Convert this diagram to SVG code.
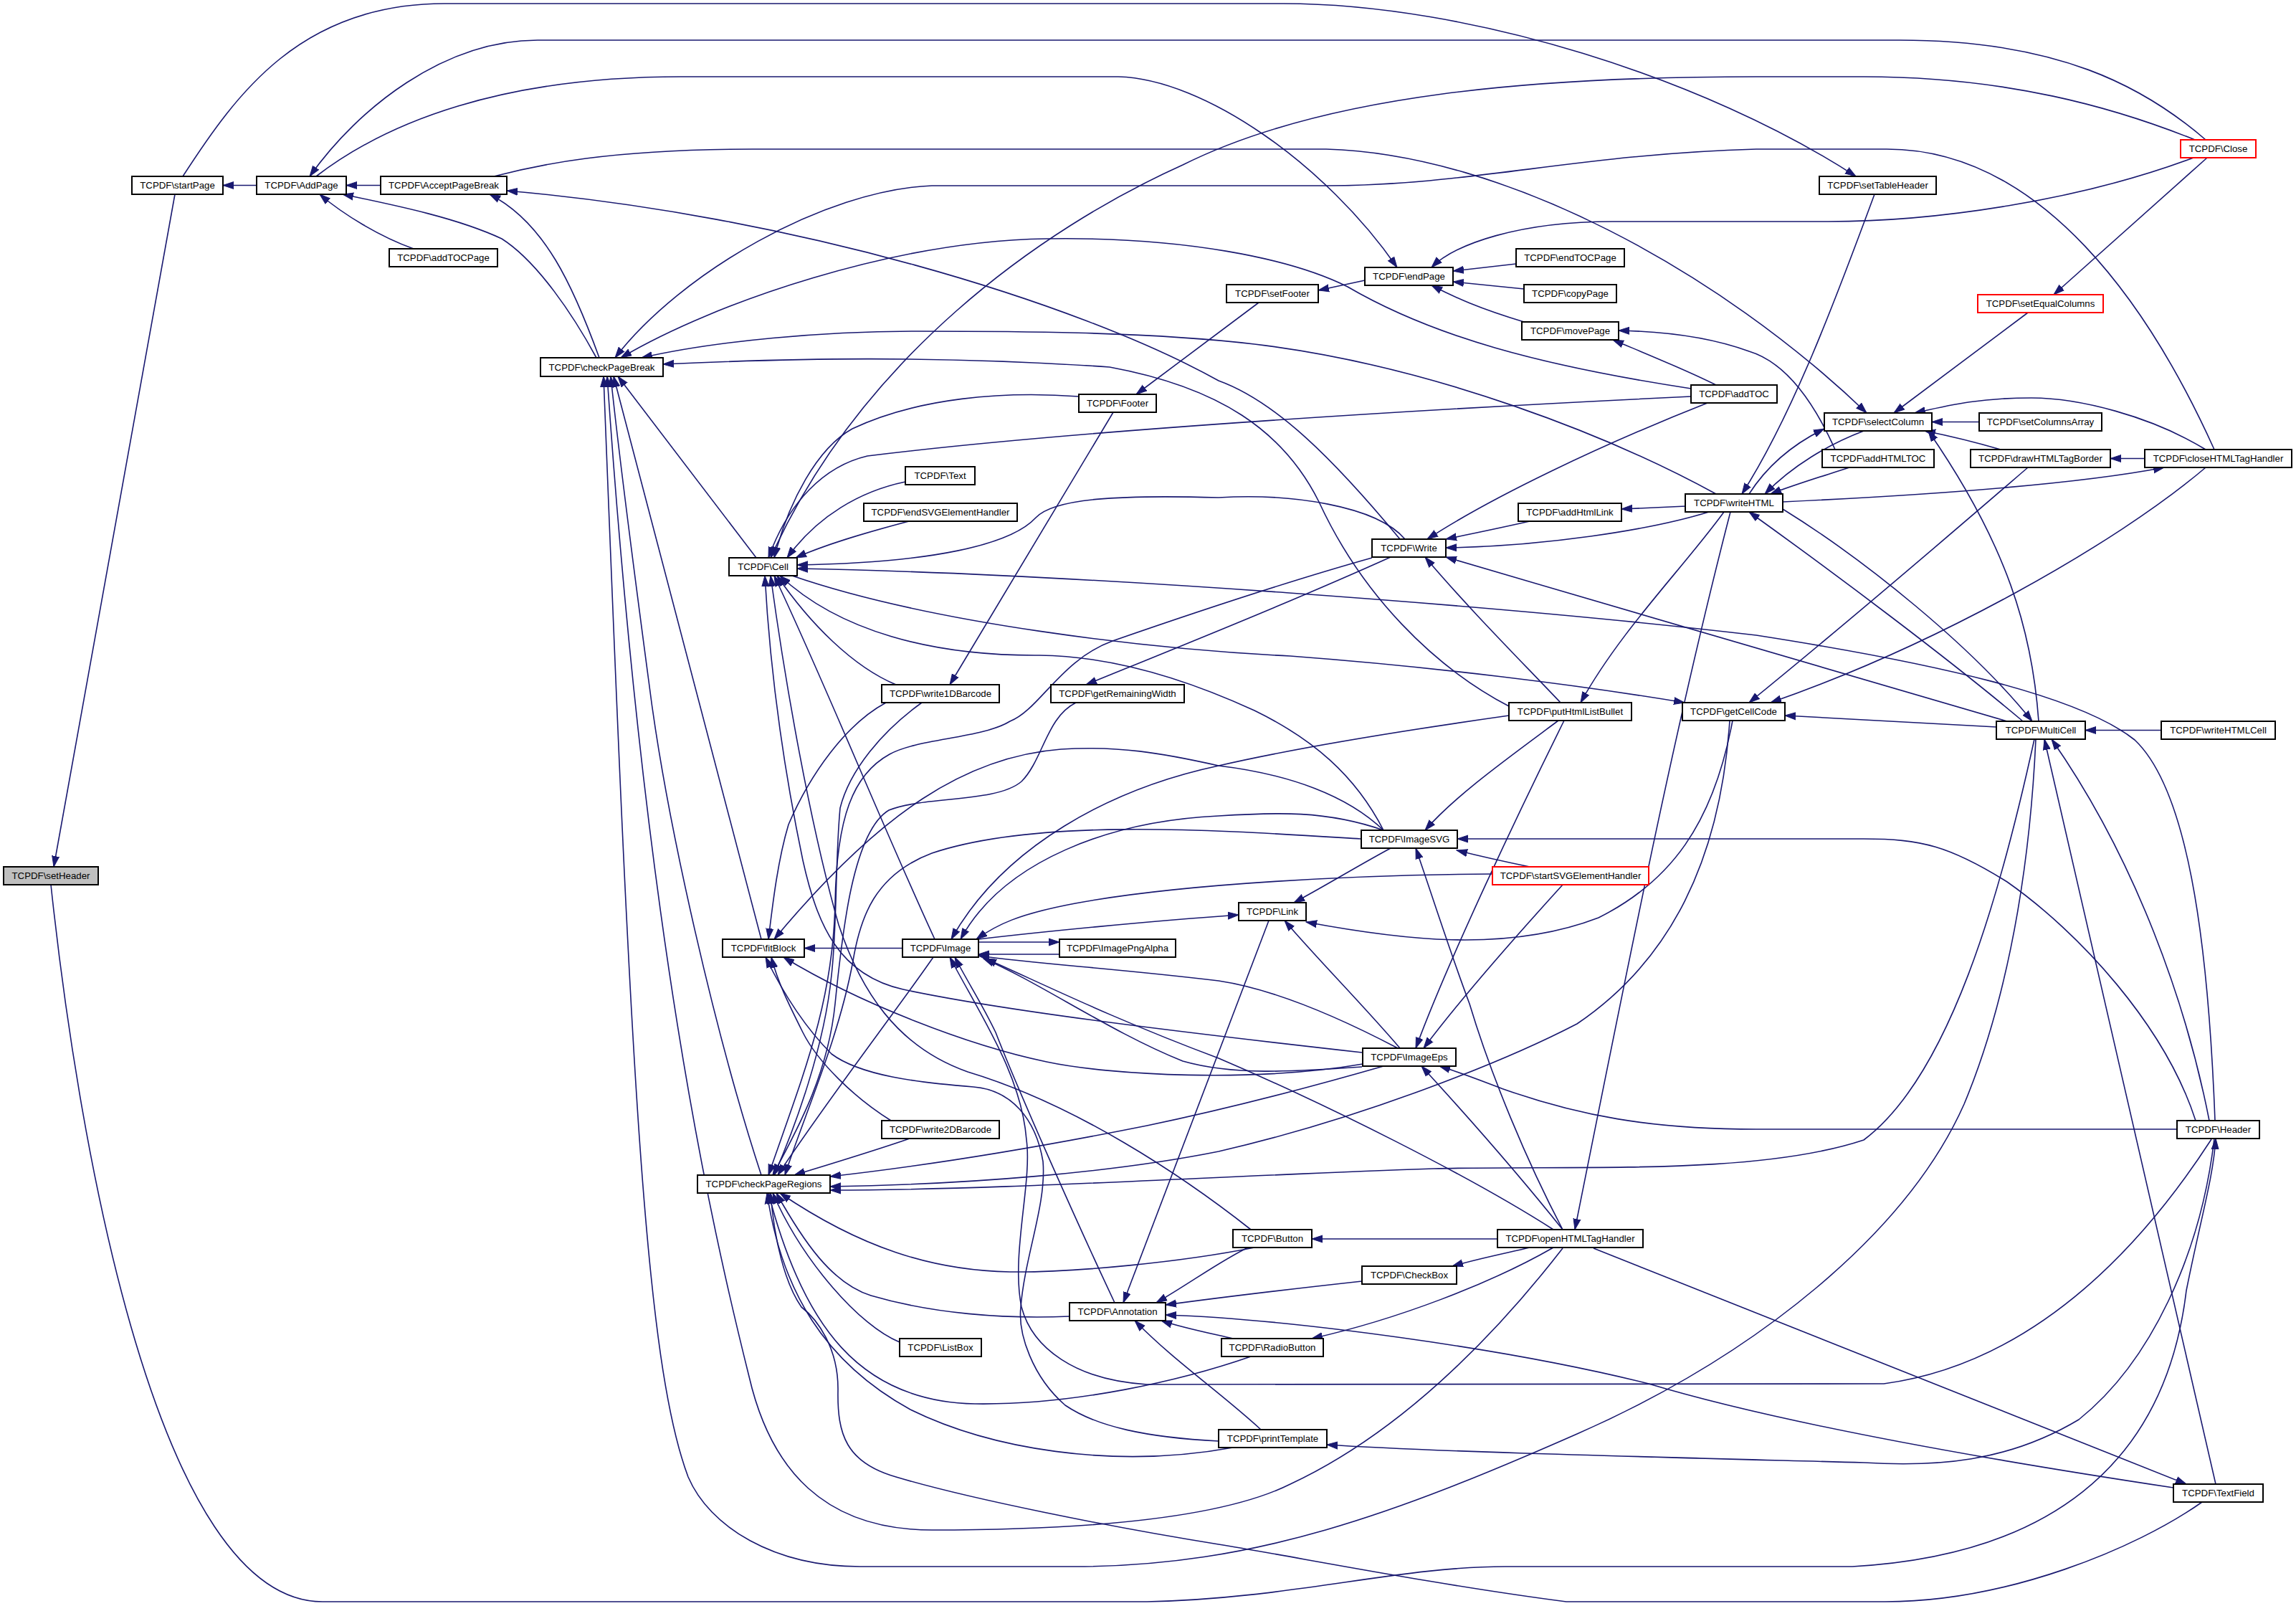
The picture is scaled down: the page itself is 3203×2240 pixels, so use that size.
<svg xmlns="http://www.w3.org/2000/svg" width="3203" height="2240" viewBox="0 0 3203 2240">
<defs>
<marker id="ah" markerUnits="userSpaceOnUse" markerWidth="16" markerHeight="12" refX="15" refY="5.5" orient="auto" viewBox="0 0 16 11"><path d="M0,0.5 L15,5.5 L0,10.5 z" fill="#191970" stroke="#191970" stroke-width="1"/></marker>
</defs>
<style>
.n rect{fill:#fff;stroke:#000;stroke-width:2}
.n.r rect{stroke:#ff0000}
.n.g rect{fill:#bfbfbf}
.n text{font-family:"Liberation Sans",Arial,sans-serif;font-size:13.25px;text-anchor:middle;fill:#000}
.e path{fill:none;stroke:#191970;stroke-width:1.6;marker-end:url(#ah)}
</style>
<rect width="3203" height="2240" fill="#fff"/>
<g id="edges" class="e">
<path d="M244,271 L75,1209"/>
<path d="M358,258.5 L311,258.5"/>
<path d="M531,258.5 L483,258.5"/>
<path d="M577,347 C530,330 480,300 446,271"/>
<path d="M832,499 C800,440 750,365 700,333 C640,305 560,288 478,271"/>
<path d="M3077,195 C2990,120 2870,56 2650,56 L750,56 C620,56 500,150 432,246"/>
<path d="M836,499 C800,400 760,310 683,271"/>
<path d="M1953,752 C1860,640 1780,560 1700,531 C1500,420 1100,300 707,266"/>
<path d="M255,246 C330,130 420,5 620,5 L1790,5 C2050,5 2380,110 2589,246"/>
<path d="M441,246 C540,170 700,107 950,107 L1560,107 C1680,110 1850,230 1949,373"/>
<path d="M3062,195 C2950,150 2800,107 2600,107 L2450,107 C2150,107 1850,130 1650,230 C1450,320 1200,500 1075,778"/>
<path d="M689,246 C750,230 850,208 1050,208 L1850,208 C2100,215 2400,380 2604,576"/>
<path d="M3089,627 C3000,430 2850,208 2632,208 L2450,208 C2200,215 2050,259 1850,259 L1300,259 C1150,265 950,380 858,499"/>
<path d="M3060,220 C2900,280 2700,309 2550,309 L2250,309 C2120,309 2030,340 1997,373"/>
<path d="M3079,220 L2865,411"/>
<path d="M2359,542 C2150,510 2000,470 1880,400 C1800,360 1650,330 1460,333 C1250,336 1000,420 866,499"/>
<path d="M2394,689 C2250,610 2000,510 1750,480 C1600,462 1400,462 1280,462 C1150,462 1000,475 895,499"/>
<path d="M2105,985 C2000,930 1900,830 1840,700 C1790,600 1700,540 1548,512 C1300,495 1100,500 925,508"/>
<path d="M1055,778 L862,525"/>
<path d="M1062,1310 L856,525"/>
<path d="M1062,1639 C1000,1450 930,1150 905,950 C885,800 865,650 852,525"/>
<path d="M2180,1741 C2080,1870 1950,2000 1800,2070 C1700,2120 1500,2134 1300,2134 C1150,2134 1075,2050 1045,1920 C990,1700 900,1300 847,525"/>
<path d="M2840,1031 C2830,1250 2790,1420 2740,1540 C2660,1720 2450,1890 2200,2000 C1950,2110 1750,2185 1500,2185 L1200,2185 C1080,2185 990,2130 960,2060 C900,1900 880,1500 842,525"/>
<path d="M2413,1005 C2400,1200 2330,1340 2200,1428 C2100,1480 1900,1560 1700,1606 C1550,1636 1350,1652 1158,1655"/>
<path d="M1930,1487 C1850,1510 1720,1545 1600,1570 C1450,1600 1300,1625 1158,1641"/>
<path d="M2838,1031 C2790,1250 2720,1500 2600,1590 C2450,1640 2200,1625 2000,1630 C1700,1640 1400,1660 1158,1660"/>
<path d="M3072,2095 C2980,2160 2800,2234 2630,2234 L2185,2234 C2000,2210 1800,2170 1700,2154 C1550,2130 1350,2090 1250,2060 C1180,2040 1168,2000 1169,1940 C1170,1880 1140,1840 1118,1823 C1095,1790 1080,1730 1075,1664"/>
<path d="M1745,1892 C1650,1925 1500,1960 1360,1958 C1200,1955 1120,1850 1072,1664"/>
<path d="M1720,2019 C1550,2050 1380,2020 1270,1966 C1150,1900 1090,1800 1070,1664"/>
<path d="M1750,1740 C1650,1760 1500,1775 1409,1774 C1300,1772 1200,1740 1088,1664"/>
<path d="M1492,1836 C1400,1840 1300,1832 1215,1807 C1160,1790 1120,1730 1083,1664"/>
<path d="M1255,1872 C1200,1850 1120,1760 1078,1664"/>
<path d="M1269,1588 C1220,1605 1170,1620 1108,1639"/>
<path d="M1302,1335 C1250,1410 1150,1540 1085,1639"/>
<path d="M1914,778 C1800,810 1650,860 1552,894 C1480,920 1450,990 1409,1006 C1370,1030 1280,1030 1241,1052 C1190,1080 1167,1140 1165,1260 C1162,1400 1120,1500 1072,1639"/>
<path d="M1501,980 C1460,1000 1455,1060 1425,1090 C1390,1120 1290,1110 1240,1130 C1190,1160 1175,1300 1165,1400 C1155,1500 1110,1580 1078,1639"/>
<path d="M1286,980 C1230,1020 1185,1075 1172,1127 C1165,1200 1168,1290 1160,1360 C1150,1460 1110,1570 1080,1639"/>
<path d="M1236,980 C1180,1010 1130,1080 1100,1150 C1085,1200 1078,1260 1072,1310"/>
<path d="M1259,1322.5 L1122,1322.5"/>
<path d="M1930,1158 C1880,1110 1800,1080 1700,1068 C1620,1050 1560,1040 1480,1045 C1350,1055 1230,1130 1080,1310"/>
<path d="M1243,1563 C1190,1530 1140,1480 1120,1440 C1100,1400 1085,1370 1076,1335"/>
<path d="M1700,2010 C1600,2005 1530,1990 1486,1960 C1440,1920 1420,1860 1424,1823 C1430,1750 1460,1680 1455,1620 C1445,1560 1410,1520 1358,1516 C1280,1510 1200,1500 1160,1470 C1120,1430 1090,1380 1068,1335"/>
<path d="M1901,1484 C1750,1510 1550,1500 1460,1481 C1350,1458 1200,1400 1093,1335"/>
<path d="M1263,672 C1200,685 1140,720 1098,778"/>
<path d="M1268,727 C1200,745 1150,760 1110,778"/>
<path d="M1505,553 C1400,545 1280,555 1189,598 C1140,625 1100,700 1080,778"/>
<path d="M1960,752 C1920,705 1800,688 1700,694 C1560,690 1470,695 1445,722 C1410,760 1300,785 1112,788"/>
<path d="M2359,553 C2000,570 1500,600 1210,636 C1150,650 1100,700 1072,778"/>
<path d="M3090,1563 C3080,1300 3050,1100 2978,1032 C2900,970 2700,925 2450,886 C2100,845 1500,800 1112,793"/>
<path d="M1105,803 C1300,870 1600,905 1800,915 C2000,930 2200,955 2350,980"/>
<path d="M1930,1158 C1890,1080 1830,1030 1750,991 C1650,945 1550,915 1450,914 C1300,915 1170,880 1088,803"/>
<path d="M1250,955 C1190,930 1130,870 1084,803"/>
<path d="M1304,1310 C1230,1150 1150,950 1080,803"/>
<path d="M1900,1468 C1650,1440 1400,1410 1260,1380 C1170,1360 1140,1290 1120,1200 C1095,1080 1075,950 1067,803"/>
<path d="M1745,1715 C1650,1640 1500,1540 1350,1495 C1250,1460 1200,1380 1170,1290 C1130,1150 1095,950 1075,803"/>
<path d="M2384,714 C2300,740 2150,762 2017,764"/>
<path d="M2134,727 C2090,737 2060,743 2017,752"/>
<path d="M2382,562 C2230,622 2080,694 1991,752"/>
<path d="M2177,980 C2120,920 2050,850 1988,777"/>
<path d="M2800,1006 C2600,950 2300,860 2017,777"/>
<path d="M1940,777 C1800,840 1650,900 1515,955"/>
<path d="M1553,575 L1325,955"/>
<path d="M1756,422 L1585,550"/>
<path d="M1904,391 L1839,405"/>
<path d="M2115,368 L2027,378"/>
<path d="M2126,403 L2027,393"/>
<path d="M2126,449 C2063,430 2030,415 1997,398"/>
<path d="M2394,537 C2350,515 2300,495 2250,474"/>
<path d="M2560,627 C2530,560 2490,505 2440,490 C2380,468 2310,462 2258,461"/>
<path d="M2829,436 L2642,576"/>
<path d="M2761,588.5 L2695,588.5"/>
<path d="M2791,627 C2760,618 2720,608 2685,601"/>
<path d="M3077,627 C3000,580 2900,555 2834,555 C2760,555 2720,565 2671,576"/>
<path d="M2440,689 C2465,650 2500,620 2545,598"/>
<path d="M2600,601 C2550,620 2500,650 2462,689"/>
<path d="M2844,1006 C2835,880 2800,760 2690,601"/>
<path d="M2829,652 C2750,720 2600,850 2440,980"/>
<path d="M3077,652 C2950,760 2700,900 2470,980"/>
<path d="M2992,639.5 L2944,639.5"/>
<path d="M2487,700 C2700,690 2900,675 3019,652"/>
<path d="M2615,271 C2560,420 2500,580 2430,689"/>
<path d="M2580,652 C2540,665 2500,677 2470,689"/>
<path d="M2352,706 L2262,710"/>
<path d="M2405,714 C2350,790 2260,880 2205,980"/>
<path d="M2414,714 C2340,1000 2280,1300 2197,1715"/>
<path d="M2487,710 C2600,780 2750,900 2835,1006"/>
<path d="M2822,1006 C2720,920 2560,800 2440,714"/>
<path d="M2785,1014 L2490,998"/>
<path d="M3015,1018.5 L2909,1018.5"/>
<path d="M2417,1005 C2390,1150 2330,1230 2230,1280 C2100,1330 1950,1310 1822,1286"/>
<path d="M1365,1310 C1450,1300 1600,1285 1728,1276"/>
<path d="M1940,1183 C1890,1210 1850,1235 1805,1259"/>
<path d="M1953,1462 C1900,1400 1840,1340 1792,1284"/>
<path d="M1770,1284 L1567,1817"/>
<path d="M1365,1314 L1478,1314"/>
<path d="M1478,1331 L1365,1331"/>
<path d="M2105,998 C1950,1020 1800,1045 1700,1068 C1550,1100 1400,1180 1327,1310"/>
<path d="M1930,1158 C1850,1130 1780,1133 1700,1138 C1550,1145 1400,1200 1340,1310"/>
<path d="M1898,1170 C1700,1158 1450,1140 1300,1190 C1220,1220 1200,1280 1190,1340 C1170,1450 1120,1560 1095,1639"/>
<path d="M2082,1219 C1900,1220 1650,1232 1500,1260 C1420,1275 1390,1290 1362,1310"/>
<path d="M2167,1715 C2050,1640 1850,1540 1700,1476 C1550,1420 1450,1370 1375,1337"/>
<path d="M1950,1462 C1870,1420 1780,1380 1700,1368 C1550,1350 1450,1345 1365,1333"/>
<path d="M1900,1488 C1800,1495 1720,1500 1650,1480 C1550,1440 1450,1370 1372,1337"/>
<path d="M1555,1817 C1500,1700 1420,1520 1389,1440 C1370,1400 1350,1370 1332,1335"/>
<path d="M3085,1589 C3000,1720 2850,1900 2628,1930 L1600,1931 C1500,1925 1440,1880 1425,1823 C1410,1750 1440,1650 1432,1590 C1425,1500 1370,1420 1325,1335"/>
<path d="M3063,1563 C3020,1430 2900,1300 2800,1230 C2720,1180 2680,1170 2600,1170 L2033,1170"/>
<path d="M3037,1575 L2450,1575 C2300,1575 2200,1555 2100,1520 C2060,1505 2035,1495 2008,1487"/>
<path d="M3082,1563 C3050,1400 2980,1200 2862,1031"/>
<path d="M3089,1588 C3070,1750 3000,1900 2900,1980 C2800,2040 2700,2046 2600,2040 C2300,2032 2000,2025 1851,2015"/>
<path d="M71,1234 C110,1600 220,2234 450,2234 L1600,2234 C1800,2230 1950,2185 2100,2185 L2584,2185 C2850,2170 3020,2050 3050,1800 C3070,1700 3088,1640 3091,1588"/>
<path d="M3091,2070 L2852,1031"/>
<path d="M2223,1741 L3050,2070"/>
<path d="M3032,2075 C2800,2040 2500,1990 2300,1930 C2100,1880 1800,1840 1626,1834"/>
<path d="M1741,1740 C1700,1760 1660,1790 1613,1817"/>
<path d="M1900,1787 C1800,1798 1700,1810 1626,1820"/>
<path d="M1720,1867 C1690,1860 1650,1852 1620,1842"/>
<path d="M1759,1994 C1700,1940 1640,1900 1583,1842"/>
<path d="M2089,1728 L1830,1728"/>
<path d="M2134,1740 C2100,1748 2060,1756 2026,1766"/>
<path d="M2167,1740 C2080,1790 1950,1840 1830,1867"/>
<path d="M2180,1715 C2130,1620 2080,1500 2050,1400 C2020,1320 1995,1240 1975,1183"/>
<path d="M2180,1715 C2120,1640 2050,1560 1983,1487"/>
<path d="M2174,1005 C2100,1060 2030,1110 1988,1158"/>
<path d="M2182,1005 C2120,1130 2020,1340 1975,1462"/>
<path d="M2134,1209 C2090,1200 2060,1193 2032,1186"/>
<path d="M2180,1234 C2120,1300 2040,1390 1986,1462"/>
</g>
<g id="n_setHeader" class="n g"><rect x="5" y="1209" width="132" height="25"/><text x="71" y="1226.2">TCPDF\setHeader</text></g>
<g id="n_startPage" class="n"><rect x="184" y="246" width="127" height="25"/><text x="247.5" y="263.2">TCPDF\startPage</text></g>
<g id="n_AddPage" class="n"><rect x="358" y="246" width="125" height="25"/><text x="420.5" y="263.2">TCPDF\AddPage</text></g>
<g id="n_AcceptPageBreak" class="n"><rect x="531" y="246" width="176" height="25"/><text x="619" y="263.2">TCPDF\AcceptPageBreak</text></g>
<g id="n_addTOCPage" class="n"><rect x="543" y="347" width="151" height="25"/><text x="618.5" y="364.2">TCPDF\addTOCPage</text></g>
<g id="n_checkPageBreak" class="n"><rect x="754" y="499" width="171" height="26"/><text x="839.5" y="516.7">TCPDF\checkPageBreak</text></g>
<g id="n_Cell" class="n"><rect x="1017" y="778" width="95" height="25"/><text x="1064.5" y="795.2">TCPDF\Cell</text></g>
<g id="n_fitBlock" class="n"><rect x="1008" y="1310" width="114" height="25"/><text x="1065" y="1327.2">TCPDF\fitBlock</text></g>
<g id="n_checkPageRegions" class="n"><rect x="973" y="1639" width="185" height="25"/><text x="1065.5" y="1656.2">TCPDF\checkPageRegions</text></g>
<g id="n_Text" class="n"><rect x="1263" y="651" width="97" height="25"/><text x="1311.5" y="668.2">TCPDF\Text</text></g>
<g id="n_endSVGElementHandler" class="n"><rect x="1205" y="702" width="214" height="25"/><text x="1312" y="719.2">TCPDF\endSVGElementHandler</text></g>
<g id="n_write1DBarcode" class="n"><rect x="1230" y="955" width="164" height="25"/><text x="1312" y="972.2">TCPDF\write1DBarcode</text></g>
<g id="n_Image" class="n"><rect x="1259" y="1310" width="106" height="25"/><text x="1312" y="1327.2">TCPDF\Image</text></g>
<g id="n_write2DBarcode" class="n"><rect x="1230" y="1563" width="164" height="25"/><text x="1312" y="1580.2">TCPDF\write2DBarcode</text></g>
<g id="n_ListBox" class="n"><rect x="1255" y="1867" width="114" height="25"/><text x="1312" y="1884.2">TCPDF\ListBox</text></g>
<g id="n_setFooter" class="n"><rect x="1711" y="397" width="128" height="25"/><text x="1775" y="414.2">TCPDF\setFooter</text></g>
<g id="n_Footer" class="n"><rect x="1505" y="550" width="108" height="25"/><text x="1559" y="567.2">TCPDF\Footer</text></g>
<g id="n_getRemainingWidth" class="n"><rect x="1466" y="955" width="186" height="25"/><text x="1559" y="972.2">TCPDF\getRemainingWidth</text></g>
<g id="n_ImagePngAlpha" class="n"><rect x="1478" y="1310" width="162" height="25"/><text x="1559" y="1327.2">TCPDF\ImagePngAlpha</text></g>
<g id="n_Annotation" class="n"><rect x="1492" y="1817" width="134" height="25"/><text x="1559" y="1834.2">TCPDF\Annotation</text></g>
<g id="n_Button" class="n"><rect x="1720" y="1715" width="110" height="25"/><text x="1775" y="1732.2">TCPDF\Button</text></g>
<g id="n_CheckBox" class="n"><rect x="1900" y="1766" width="132" height="25"/><text x="1966" y="1783.2">TCPDF\CheckBox</text></g>
<g id="n_RadioButton" class="n"><rect x="1704" y="1867" width="142" height="25"/><text x="1775" y="1884.2">TCPDF\RadioButton</text></g>
<g id="n_printTemplate" class="n"><rect x="1700" y="1994" width="151" height="25"/><text x="1775.5" y="2011.2">TCPDF\printTemplate</text></g>
<g id="n_endPage" class="n"><rect x="1904" y="373" width="123" height="25"/><text x="1965.5" y="390.2">TCPDF\endPage</text></g>
<g id="n_Write" class="n"><rect x="1914" y="752" width="103" height="25"/><text x="1965.5" y="769.2">TCPDF\Write</text></g>
<g id="n_ImageSVG" class="n"><rect x="1899" y="1158" width="134" height="25"/><text x="1966" y="1175.2">TCPDF\ImageSVG</text></g>
<g id="n_Link" class="n"><rect x="1728" y="1259" width="94" height="25"/><text x="1775" y="1276.2">TCPDF\Link</text></g>
<g id="n_ImageEps" class="n"><rect x="1901" y="1462" width="130" height="25"/><text x="1966" y="1479.2">TCPDF\ImageEps</text></g>
<g id="n_addHtmlLink" class="n"><rect x="2118" y="702" width="144" height="25"/><text x="2190" y="719.2">TCPDF\addHtmlLink</text></g>
<g id="n_endTOCPage" class="n"><rect x="2115" y="347" width="151" height="25"/><text x="2190.5" y="364.2">TCPDF\endTOCPage</text></g>
<g id="n_copyPage" class="n"><rect x="2126" y="397" width="129" height="25"/><text x="2190.5" y="414.2">TCPDF\copyPage</text></g>
<g id="n_movePage" class="n"><rect x="2123" y="449" width="135" height="25"/><text x="2190.5" y="466.2">TCPDF\movePage</text></g>
<g id="n_putHtmlListBullet" class="n"><rect x="2105" y="980" width="171" height="25"/><text x="2190.5" y="997.2">TCPDF\putHtmlListBullet</text></g>
<g id="n_startSVGElementHandler" class="n r"><rect x="2082" y="1209" width="218" height="25"/><text x="2191" y="1226.2">TCPDF\startSVGElementHandler</text></g>
<g id="n_openHTMLTagHandler" class="n"><rect x="2089" y="1715" width="203" height="25"/><text x="2190.5" y="1732.2">TCPDF\openHTMLTagHandler</text></g>
<g id="n_setTableHeader" class="n"><rect x="2538" y="246" width="163" height="25"/><text x="2619.5" y="263.2">TCPDF\setTableHeader</text></g>
<g id="n_addTOC" class="n"><rect x="2359" y="537" width="120" height="25"/><text x="2419" y="554.2">TCPDF\addTOC</text></g>
<g id="n_writeHTML" class="n"><rect x="2351" y="689" width="136" height="25"/><text x="2419" y="706.2">TCPDF\writeHTML</text></g>
<g id="n_getCellCode" class="n"><rect x="2347" y="980" width="143" height="25"/><text x="2418.5" y="997.2">TCPDF\getCellCode</text></g>
<g id="n_selectColumn" class="n"><rect x="2545" y="576" width="150" height="25"/><text x="2620" y="593.2">TCPDF\selectColumn</text></g>
<g id="n_addHTMLTOC" class="n"><rect x="2542" y="627" width="156" height="25"/><text x="2620" y="644.2">TCPDF\addHTMLTOC</text></g>
<g id="n_drawHTMLTagBorder" class="n"><rect x="2749" y="627" width="195" height="25"/><text x="2846.5" y="644.2">TCPDF\drawHTMLTagBorder</text></g>
<g id="n_setEqualColumns" class="n r"><rect x="2759" y="411" width="175" height="25"/><text x="2846.5" y="428.2">TCPDF\setEqualColumns</text></g>
<g id="n_setColumnsArray" class="n"><rect x="2761" y="576" width="171" height="25"/><text x="2846.5" y="593.2">TCPDF\setColumnsArray</text></g>
<g id="n_Close" class="n r"><rect x="3042" y="195" width="105" height="25"/><text x="3094.5" y="212.2">TCPDF\Close</text></g>
<g id="n_closeHTMLTagHandler" class="n"><rect x="2992" y="627" width="205" height="25"/><text x="3094.5" y="644.2">TCPDF\closeHTMLTagHandler</text></g>
<g id="n_MultiCell" class="n"><rect x="2785" y="1006" width="124" height="25"/><text x="2847" y="1023.2">TCPDF\MultiCell</text></g>
<g id="n_writeHTMLCell" class="n"><rect x="3015" y="1006" width="159" height="25"/><text x="3094.5" y="1023.2">TCPDF\writeHTMLCell</text></g>
<g id="n_Header" class="n"><rect x="3037" y="1563" width="115" height="25"/><text x="3094.5" y="1580.2">TCPDF\Header</text></g>
<g id="n_TextField" class="n"><rect x="3032" y="2070" width="125" height="25"/><text x="3094.5" y="2087.2">TCPDF\TextField</text></g>
</svg>
